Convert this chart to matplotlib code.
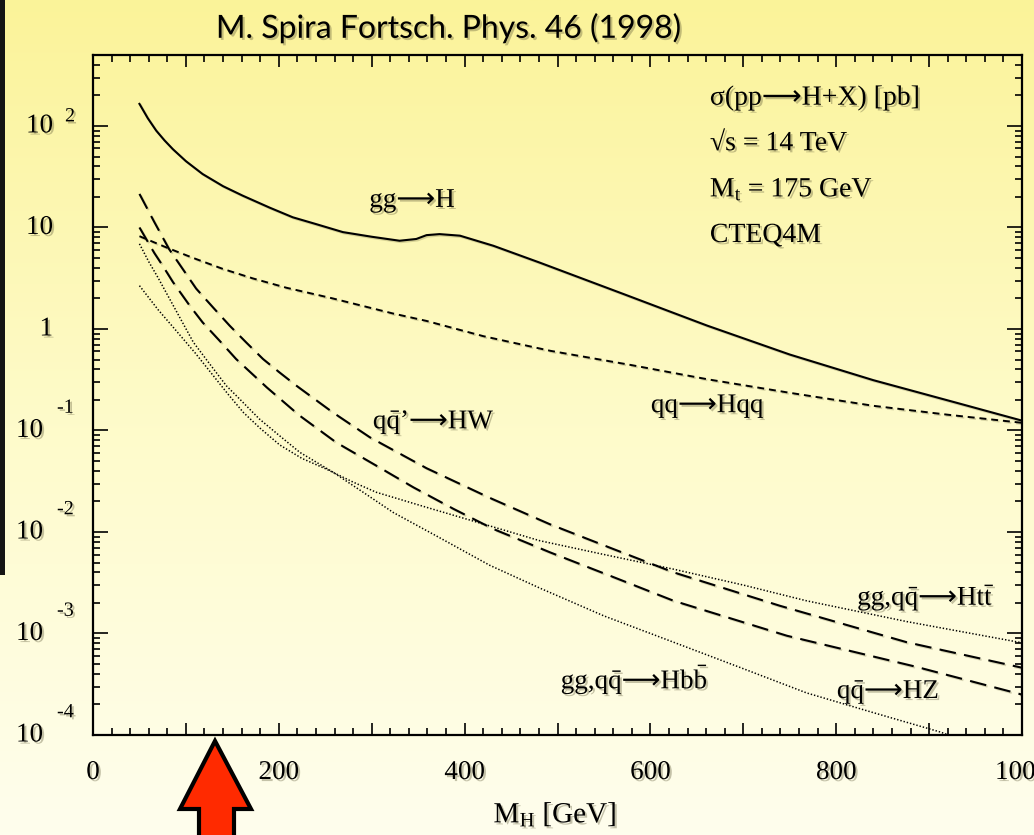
import numpy as np
import matplotlib
matplotlib.use("Agg")
import matplotlib.pyplot as plt
import matplotlib.patheffects as pe
from matplotlib.ticker import MultipleLocator, LogLocator, NullFormatter, FuncFormatter
from matplotlib.patches import Polygon, Rectangle

plt.rcParams["font.family"] = ["Liberation Serif", "DejaVu Serif"]
plt.rcParams["mathtext.fontset"] = "custom"
plt.rcParams["mathtext.rm"] = "Liberation Serif"
plt.rcParams["mathtext.it"] = "Liberation Serif:italic"
plt.rcParams["mathtext.bf"] = "Liberation Serif:bold"
plt.rcParams["mathtext.sf"] = "DejaVu Sans"
plt.rcParams["lines.scale_dashes"] = False

# sigma(pp -> H + X) [pb] versus M_H [GeV]
m_ggh = [50, 59, 68, 77, 86, 100, 118, 140, 161, 190, 215, 240, 269, 300, 330, 348, 359, 373, 395, 431, 481, 571, 661, 750, 840, 930, 1000]
s_ggh = [165, 119, 90, 72, 59, 45, 33.6, 25.5, 20.6, 15.7, 12.6, 10.8, 9.0, 8.1, 7.4, 7.7, 8.4, 8.6, 8.3, 6.6, 4.5, 2.21, 1.08, 0.56, 0.313, 0.187, 0.125]

m_qqh = [50, 80, 108, 140, 172, 208, 258, 323, 359, 420, 492, 580, 661, 750, 840, 920, 1000]
s_qqh = [8.2, 6.3, 5.0, 3.9, 3.15, 2.55, 2.0, 1.42, 1.2, 0.85, 0.61, 0.44, 0.32, 0.235, 0.175, 0.143, 0.119]

m_hw = [50, 66, 82, 104, 111, 130, 147, 165, 183, 200, 219, 258, 298, 359, 427, 492, 560, 625, 739, 876, 1000]
s_hw = [21.4, 11.3, 6.1, 3.1, 2.5, 1.6, 1.08, 0.735, 0.506, 0.378, 0.276, 0.151, 0.0857, 0.0425, 0.0217, 0.0119, 0.0068, 0.0040, 0.00188, 0.00082, 0.00046]

m_hz = [50, 66, 75, 86, 104, 118, 136, 154, 187, 222, 262, 305, 345, 388, 431, 492, 560, 625, 747, 886, 1000]
s_hz = [10, 5.6, 4.2, 2.9, 1.7, 1.16, 0.77, 0.506, 0.266, 0.141, 0.076, 0.045, 0.0275, 0.0169, 0.0107, 0.0063, 0.0036, 0.0021, 0.00095, 0.00047, 0.00025]

m_htt = [50, 70, 90, 110, 126, 145, 162, 180, 201, 225, 251, 280, 305, 359, 431, 481, 550, 625, 700, 768, 876, 1000]
s_htt = [2.67, 1.55, 0.95, 0.58, 0.38, 0.23, 0.15, 0.105, 0.072, 0.053, 0.0417, 0.031, 0.0246, 0.0175, 0.0112, 0.0082, 0.0060, 0.0043, 0.0030, 0.0021, 0.00131, 0.00081]

m_hbb = [50, 60, 70, 90, 108, 125, 143.5, 160, 179, 200, 222.5, 258, 290, 323, 370, 427, 481, 550, 625, 700, 768, 840, 912, 950]
s_hbb = [6.9, 4.6, 3.2, 1.48, 0.74, 0.46, 0.276, 0.195, 0.13, 0.09, 0.061, 0.039, 0.0249, 0.0156, 0.0091, 0.0047, 0.0028, 0.00149, 0.00082, 0.00045, 0.00026, 0.000166, 0.000107, 0.00008]

ytick_vals = [1e-4, 1e-3, 1e-2, 1e-1, 1, 10, 100]
ytick_base = ["10", "10", "10", "10", "1", "10", "10"]
ytick_sup = ["-4", "-3", "-2", "-1", "", "", "2"]

ARROW = "$\\mathsf{⟶}$"
title = "M. Spira Fortsch. Phys. 46 (1998)"
info_lines = ["σ(pp" + ARROW + "H+X) [pb]", "√s = 14 TeV", "M$_\\mathrm{t}$ = 175 GeV", "CTEQ4M"]
curve_labels = [
    (344, 18.2, "gg" + ARROW + "H"),
    (662, 0.173, "qq" + ARROW + "Hqq"),
    (367, 0.12, "q$\\bar{\\mathrm{q}}$’" + ARROW + "HW"),
    (897, 0.00225, "gg,q$\\bar{\\mathrm{q}}$" + ARROW + "Ht$\\bar{\\mathrm{t}}$"),
    (583, 3.5e-4, "gg,q$\\bar{\\mathrm{q}}$" + ARROW + "Hb$\\bar{\\mathrm{b}}$"),
    (856, 2.65e-4, "q$\\bar{\\mathrm{q}}$" + ARROW + "HZ"),
]

W, H = 1034, 835
fig = plt.figure(figsize=(W / 100, H / 100), dpi=100)

# slide background: vertical yellow gradient
bg = fig.add_axes([0, 0, 1, 1], zorder=-10)
top = np.array([0.984, 0.953, 0.600])
mid = np.array([0.996, 0.984, 0.790])
bot = np.array([1.000, 0.996, 0.930])
t = np.linspace(0, 1, 400)[:, None]
grad = np.where(t < 0.5, top + (mid - top) * (t / 0.5), mid + (bot - mid) * ((t - 0.5) / 0.5))
bg.imshow(grad[:, None, :], aspect="auto", extent=[0, 1, 0, 1])
bg.axis("off")

# dark window edge on the left
fig.patches.append(Rectangle((0, 1 - 575 / H), 5 / W, 575 / H, transform=fig.transFigure,
                             facecolor="#141414", edgecolor="none", zorder=5))

shadow = [pe.withSimplePatchShadow(offset=(1.5, -1.5), shadow_rgbFace=(0.35, 0.33, 0.2), alpha=0.35)]
line_shadow = [pe.SimpleLineShadow(offset=(1, -1), shadow_color=(0.4, 0.38, 0.2), alpha=0.25), pe.Normal()]

ax = fig.add_axes([93 / W, 1 - 735 / H, 929 / W, 680 / H])
ax.set_facecolor("none")

ax.plot(m_ggh, s_ggh, color="black", lw=1.5, path_effects=line_shadow)
ax.plot(m_qqh, s_qqh, color="black", lw=1.4, dashes=(5, 3.5), path_effects=line_shadow)
ax.plot(m_hw, s_hw, color="black", lw=1.5, dashes=(12, 6), path_effects=line_shadow)
ax.plot(m_hz, s_hz, color="black", lw=1.5, dashes=(12, 6), path_effects=line_shadow)
ax.plot(m_htt, s_htt, color="black", lw=1.1, dashes=(1, 1.4))
ax.plot(m_hbb, s_hbb, color="black", lw=1.1, dashes=(1, 1.4))

ax.set_yscale("log")
ax.set_xlim(0, 1000)
ax.set_ylim(1e-4, 5e2)

ax.xaxis.set_major_locator(MultipleLocator(100))
ax.xaxis.set_minor_locator(MultipleLocator(20))
ax.xaxis.set_major_formatter(FuncFormatter(lambda v, p: f"{v:.0f}" if round(v) % 200 == 0 else ""))
ax.yaxis.set_major_locator(LogLocator(base=10, numticks=20))
ax.yaxis.set_minor_locator(LogLocator(base=10, subs=np.arange(2, 10), numticks=20))
ax.yaxis.set_major_formatter(NullFormatter())
ax.yaxis.set_minor_formatter(NullFormatter())

ax.tick_params(which="both", direction="in", top=True, right=True, width=1.2, colors="black")
ax.tick_params(axis="x", which="major", length=8.5, labelsize=19.5, pad=18)
ax.tick_params(axis="x", which="minor", length=5)
ax.tick_params(axis="y", which="major", length=10.5)
ax.tick_params(axis="y", which="minor", length=5)
for lab in ax.get_xticklabels():
    lab.set_path_effects(shadow)
for sp in ax.spines.values():
    sp.set_linewidth(1.6)

# y tick labels written as 10 with a raised exponent
for val, base, sup in zip(ytick_vals, ytick_base, ytick_sup):
    neg = sup.startswith("-")
    x_base = ((43 if neg else 53) - 93) / 929
    x_sup = ((57 if neg else 65) - 93) / 929
    ax.annotate(base, xy=(x_base, val), xycoords=("axes fraction", "data"),
                ha="right", va="center", fontsize=19.5, annotation_clip=False, path_effects=shadow)
    if sup:
        ax.annotate(sup, xy=(x_sup, val), xycoords=("axes fraction", "data"),
                    xytext=(0, 16 if neg else 6.5), textcoords="offset points",
                    ha="left", va="center", fontsize=14.5, annotation_clip=False, path_effects=shadow)

for x, y, s in curve_labels:
    ax.text(x, y, s, ha="center", va="center", fontsize=19.5, path_effects=shadow)

for i, line in enumerate(info_lines):
    ax.text(0.664, 0.937 - 0.0675 * i, line, transform=ax.transAxes, ha="left", va="center",
            fontsize=20, path_effects=shadow)

fig.text(555 / W, 1 - 815 / H, "M$_\\mathrm{H}$ [GeV]", ha="center", va="center",
         fontsize=21, path_effects=shadow)

fig.text(449 / W, 1 - 28 / H, title, ha="center", va="center", fontsize=23,
         family=["Lato", "DejaVu Sans"], path_effects=shadow)

# red arrow pointing at the axis
arrow_px = [(215, 741), (251, 809), (234, 809), (234, 840), (199, 840), (199, 809), (180, 809)]
fig.patches.append(Polygon([(x / W, 1 - y / H) for x, y in arrow_px], closed=True,
                           transform=fig.transFigure, facecolor="#ff2a00", edgecolor="black",
                           linewidth=3, joinstyle="miter", zorder=6))

fig.savefig("out.png", dpi=100)
